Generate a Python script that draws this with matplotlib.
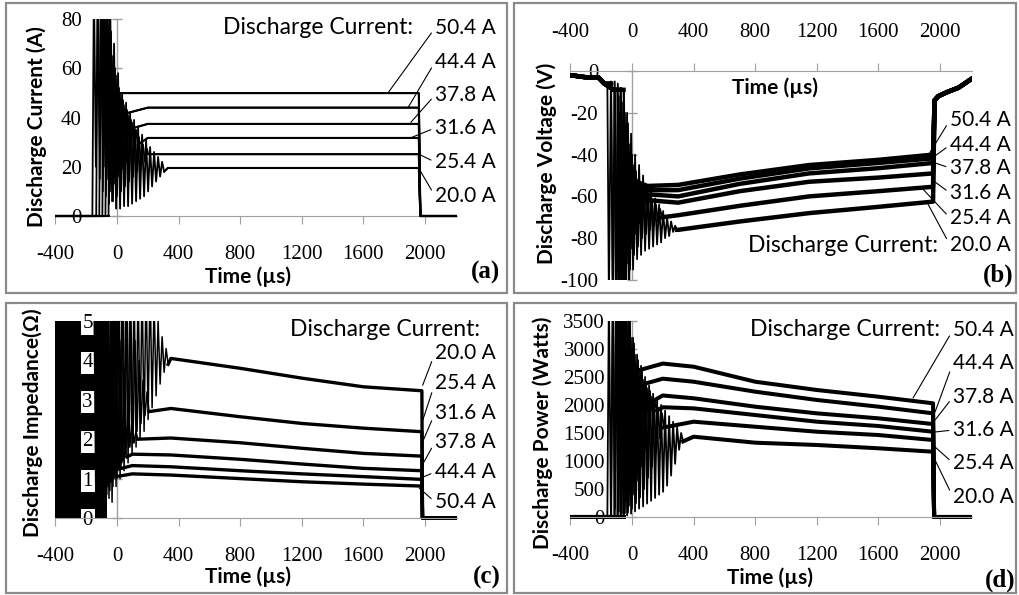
import numpy as np
import matplotlib
matplotlib.use("Agg")
import matplotlib.pyplot as plt
from matplotlib.patches import Rectangle

plt.rcParams['axes.unicode_minus'] = False

W, H = 1019, 595
nan = np.nan

# ---------------- data ----------------
series_labels = ['20.0 A', '25.4 A', '31.6 A', '37.8 A', '44.4 A', '50.4 A']
ignition_t = [-55, -75, -95, -115, -135, -160]      # µs, discharge ignition
RING_DELAY = 10     # µs from ignition to first extremum
RING_STEP = 13      # µs between successive extrema of the ringing

time_ticks = [-400, 0, 400, 800, 1200, 1600, 2000]

# (a) discharge current [A]
cur_pre_t = [-400]
cur_pre_v = [0]
cur_ring = [
    [95, 6, 70, 3, 58, 3, 50, 4, 46, 4, 42, 5, 39, 6, 36, 7, 33, 8, 31, 10, 28, 12, 26, 14, 24, 16, 22, 18],
    [95, 5, 75, 6, 60, 8, 52, 10, 47, 12, 43, 14, 39, 16, 35, 18, 32, 20, 29, 22, 27],
    [95, 8, 80, 10, 65, 13, 57, 16, 50, 19, 45, 22, 41, 25, 38, 27, 35, 29],
    [95, 10, 85, 15, 70, 20, 60, 25, 52, 29, 46, 32, 42, 35],
    [95, 15, 90, 20, 75, 28, 62, 33, 55, 37, 50, 41],
    [95, 20, 92, 25, 85, 32, 70, 38, 62, 42, 56, 46],
]
cur_plat_t = [0, 200, 330, 1000, 1960]
cur_plat_v = [
    [nan, nan, 19.5, 19.5, 19.5],
    [nan, 25.1, 25.1, 25.1, 25.1],
    [nan, 31.7, 31.7, 31.7, 31.7],
    [nan, 37.4, 37.4, 37.4, 37.4],
    [44.0, 44.0, 44.0, 44.0, 44.0],
    [49.9, 49.9, 49.9, 49.9, 49.9],
]
cur_post_t = [1970, 2200]
cur_post_v = [0, 0]
cur_lead_t = [1963, 1963, 1917, 1908, 1890, 1760]
cur_lead_v = [19, 25, 32, 38, 44, 50]

# (b) discharge voltage [V]
vol_pre_t = [-400, -300, -220, -180, -120]
vol_pre_v = [-2, -3, -3, -6, -9]
vol_ring = [
    [-110, -20, -110, -30, -95, -40, -90, -45, -88, -50, -86, -55, -85, -58, -84, -61, -83, -64, -82, -67, -80, -70, -79, -72, -77, -74, -76],
    [-110, -10, -110, -25, -95, -40, -88, -48, -84, -53, -80, -57, -78, -60, -76, -62, -74, -64, -72, -66, -70],
    [-110, -8, -110, -20, -92, -35, -85, -45, -78, -52, -73, -56, -70, -58, -67, -60, -65, -62],
    [-110, -6, -110, -15, -95, -30, -85, -42, -75, -50, -68, -55, -64, -58],
    [-110, -5, -110, -12, -95, -25, -85, -38, -75, -47, -66, -53],
    [-110, -5, -110, -10, -98, -20, -90, -35, -78, -45, -68, -52],
]
vol_plat_t = [100, 300, 700, 1150, 1600, 1955]
vol_plat_v = [
    [nan, -76, -72, -68, -65, -62.5],
    [nan, -69, -64.5, -60, -57.5, -55.4],
    [nan, -63, -57.5, -53, -51, -49],
    [-59, -60, -54, -49, -46.5, -44],
    [-57, -57, -51.5, -46.6, -44, -41.8],
    [-55, -54.5, -49.5, -45, -42.5, -40],
]
vol_post_t = [1965, 1990, 2050, 2120, 2200]
vol_post_v = [-14, -12, -10, -8, -4]
vol_lead_t = [1915, 1883, 1948, 1968, 1961, 1929]
vol_lead_v = [-62.7, -56, -52, -44, -41, -39.7]

# (c) discharge impedance [Ohm]
imp_offscale_t = [-400, -62]     # before ignition V/I is off-scale noise
imp_ring = [
    [6, 0.4, 6, 0.8, 6, 1.0, 6, 1.2, 6, 1.4, 6, 1.6, 6, 1.8, 6, 2.0, 6, 2.2, 6, 2.5, 6, 2.8, 5.5, 3.1, 5.0, 3.4, 4.6, 3.7, 4.3, 3.9],
    [6, 0.5, 6, 0.8, 6, 1.0, 6, 1.3, 6, 1.6, 5.5, 1.8, 5.0, 2.0, 4.5, 2.2, 4.0, 2.4, 3.5, 2.6, 3.2, 2.7],
    [6, 0.4, 6, 0.7, 6, 1.0, 5.5, 1.2, 4.5, 1.4, 3.8, 1.6, 3.0, 1.8, 2.5, 1.9, 2.2, 2.0],
    [6, 0.3, 6, 0.6, 5, 0.9, 4, 1.1, 3, 1.3, 2.2, 1.45, 1.8, 1.55],
    [6, 0.3, 6, 0.5, 4.5, 0.8, 3.5, 1.0, 2.5, 1.15, 1.7, 1.25],
    [6, 0.3, 6, 0.4, 5, 0.6, 4, 0.8, 3, 0.95, 1.8, 1.05],
]
imp_plat_t = [100, 350, 800, 1200, 1600, 1980]
imp_plat_v = [
    [nan, 4.05, 3.8, 3.55, 3.33, 3.23],
    [nan, 2.78, 2.57, 2.4, 2.28, 2.19],
    [nan, 2.03, 1.91, 1.77, 1.64, 1.57],
    [1.62, 1.6, 1.49, 1.37, 1.26, 1.2],
    [1.33, 1.3, 1.2, 1.12, 1.05, 0.98],
    [1.12, 1.09, 1.0, 0.92, 0.86, 0.81],
]
imp_post_t = [1984, 2200]
imp_post_v = [0, 0]
imp_lead_t = [1985, 1987, 1990, 1990, 1988, 1963]
imp_lead_v = [3.37, 2.5, 1.98, 1.4, 1.04, 0.76]

# (d) discharge power [W]
pow_pre_t = [-400]
pow_pre_v = [0]
pow_ring = [
    [4000, 30, 3800, 60, 3200, 100, 2900, 150, 2700, 190, 2500, 240, 2350, 290, 2200, 340, 2100, 400, 2000, 450, 1900, 560, 1800, 740, 1700, 950, 1600, 1200, 1500, 1350],
    [4000, 40, 3900, 80, 3500, 150, 3100, 250, 2800, 350, 2600, 500, 2400, 700, 2250, 900, 2100, 1150, 1950, 1400, 1850, 1600],
    [4000, 30, 4000, 70, 3600, 200, 3200, 400, 2900, 650, 2650, 900, 2450, 1200, 2300, 1500, 2150, 1750, 2050, 1900],
    [4000, 20, 4000, 60, 3700, 300, 3300, 700, 3000, 1100, 2700, 1500, 2500, 1800, 2350, 2000],
    [4000, 20, 4000, 100, 3800, 600, 3400, 1200, 3100, 1700, 2850, 2100, 2700, 2350],
    [4000, 20, 4000, 150, 4000, 800, 3600, 1500, 3300, 2000, 3100, 2400, 2950, 2600],
]
pow_plat_t = [200, 400, 800, 1200, 1600, 1955]
pow_plat_v = [
    [nan, 1434, 1327, 1286, 1227, 1166],
    [nan, 1702, 1612, 1523, 1464, 1375],
    [1960, 1940, 1821, 1702, 1625, 1523],
    [2170, 2120, 1970, 1851, 1762, 1660],
    [2470, 2416, 2238, 2090, 1970, 1851],
    [2740, 2684, 2416, 2268, 2148, 2030],
]
pow_post_t = [1962, 2200]
pow_post_v = [0, 0]
pow_lead_t = [1968, 1968, 1968, 1968, 1968, 1825]
pow_lead_v = [1018, 1250, 1518, 1732, 1875, 2125]

# ---------------- helpers ----------------
SANS = ['Lato', 'DejaVu Sans']
SERIF = ['Liberation Serif', 'DejaVu Serif']
GRAY = '#a0a0a0'

fig = plt.figure(figsize=(W / 100, H / 100), dpi=100)


def px_axes(x0, y0, x1, y1):
    return fig.add_axes([x0 / W, 1 - y1 / H, (x1 - x0) / W, (y1 - y0) / H])


def build_trace(pre_t, pre_v, t_on, ring, plat_t, plat_v, post_t, post_v):
    t, v = [], []
    for a, b in zip(pre_t, pre_v):
        if a < t_on:
            t.append(a)
            v.append(b)
    if v:
        t.append(t_on)
        v.append(v[-1])
    n_pre = len(t)
    ring_t = [t_on + RING_DELAY + k * RING_STEP for k in range(len(ring))]
    t += ring_t
    v += list(ring)
    n_ring = len(t)
    end = ring_t[-1]
    for a, b in zip(plat_t, plat_v):
        if not np.isnan(b) and a > end:
            t.append(a)
            v.append(b)
    t += list(post_t)
    v += list(post_v)
    return t, v, n_pre, n_ring


def frame(x0, y0, x1, y1):
    fig.patches.append(Rectangle((x0 / W, 1 - y1 / H), (x1 - x0) / W, (y1 - y0) / H,
                                 transform=fig.transFigure, fill=False,
                                 edgecolor='#8a8a8a', lw=1.6))


def setup_axes(ax, ylim, yticks, xtop=False, ypad=-19, label_box=False):
    ax.set_xlim(-400, 2210)
    ax.set_ylim(*ylim)
    ax.patch.set_visible(False)
    ax.spines['right'].set_visible(False)
    ax.spines['left'].set_visible(False)
    if xtop:
        ax.spines['bottom'].set_visible(False)
        ax.xaxis.tick_top()
        ax.spines['top'].set_color(GRAY)
    else:
        ax.spines['top'].set_visible(False)
        ax.spines['bottom'].set_color(GRAY)
    ax.set_xticks(time_ticks)
    ax.set_yticks(yticks)
    ax.tick_params(axis='x', direction='out', length=6, color=GRAY, pad=15,
                   labelsize=15, labelfontfamily='Liberation Serif')
    ax.tick_params(axis='y', length=0, pad=ypad,
                   labelsize=15, labelfontfamily='Liberation Serif')
    # vertical axis crosses at time 0, with small crossing tick marks
    ax.axvline(0, color=GRAY, lw=1, zorder=1)
    ax.plot([0] * len(yticks), yticks, ls='none', marker='_', ms=7, mew=1,
            color=GRAY, zorder=1, clip_on=False)
    if label_box:
        for lab in ax.get_yticklabels():
            lab.set_bbox(dict(facecolor='white', edgecolor='none', pad=1.2))


def draw_traces(ax, pre_t, pre_v, ring, plat_t, plat_v, post_t, post_v, clip,
                lw_ring, lw_plat, z):
    for i in range(len(series_labels)):
        t, v, n0, n = build_trace(pre_t, pre_v, ignition_t[i], ring[i], plat_t, plat_v[i],
                                  post_t, post_v)
        cp = Rectangle((clip[0], clip[1]), clip[2] - clip[0], clip[3] - clip[1],
                       transform=ax.transData)
        parts = [(t, v, lw_ring), (t[n - 1:], v[n - 1:], lw_plat)]
        if n0 > 0:
            parts.append((t[:n0], v[:n0], lw_plat))
        for tt, vv, lw in parts:
            ln, = ax.plot(tt, vv, color='black', lw=lw, zorder=z, solid_joinstyle='round')
            ln.set_clip_path(cp)


def leaders(ax, lead_t, lead_v, order, xpx, ypx):
    for idx, yp in zip(order, ypx):
        ax.annotate(series_labels[idx], xy=(lead_t[idx], lead_v[idx]), xycoords='data',
                    xytext=(xpx, H - yp), textcoords='figure pixels',
                    ha='left', va='center', fontsize=15, family=SANS,
                    arrowprops=dict(arrowstyle='-', color='black', lw=0.8,
                                    shrinkA=1, shrinkB=0, relpos=(0, 0.5)),
                    annotation_clip=False)


def ftext(x, y, s, **kw):
    fig.text(x / W, 1 - y / H, s, ha='center', va='center', **kw)


def dc_title(xr, y):
    fig.text(xr / W, 1 - y / H, 'Discharge Current:', ha='right', va='center',
             fontsize=16.5, family=SANS)


# panel frames
frame(6, 3, 507, 293)
frame(514, 3, 1016, 293)
frame(6, 303, 507, 593)
frame(514, 303, 1016, 593)

# ---------------- (a) current ----------------
axA = px_axes(55.4, 19, 457.3, 216)
setup_axes(axA, (0, 80), [0, 20, 40, 60, 80], ypad=-19)
draw_traces(axA, cur_pre_t, cur_pre_v, cur_ring, cur_plat_t, cur_plat_v,
            cur_post_t, cur_post_v, (-400, -3, 2210, 80), 1.3, 1.5, 3)
leaders(axA, cur_lead_t, cur_lead_v, [5, 4, 3, 2, 1, 0], 435, [28, 62, 95, 128, 162, 196])
dc_title(413, 28)
ftext(37, 127, 'Discharge Current (A)', rotation=90, fontsize=15, family=SANS, weight='bold')
ftext(248, 277, 'Time (µs)', fontsize=15, family=SANS, weight='bold')
ftext(485, 272, '(a)', fontsize=18, family=SERIF, weight='bold')

# ---------------- (b) voltage ----------------
axB = px_axes(570.4, 71, 972.3, 280)
setup_axes(axB, (-100, 0), [-100, -80, -60, -40, -20, 0], xtop=True, ypad=-20)
draw_traces(axB, vol_pre_t, vol_pre_v, vol_ring, vol_plat_t, vol_plat_v,
            vol_post_t, vol_post_v, (-400, -100, 2210, 3), 1.3, 3.2, 3)
leaders(axB, vol_lead_t, vol_lead_v, [5, 4, 3, 2, 1, 0], 950, [120, 145, 168, 193, 218, 245])
dc_title(938, 245)
ftext(547, 163, 'Discharge Voltage (V)', rotation=90, fontsize=15, family=SANS, weight='bold')
ftext(775, 88, 'Time (µs)', fontsize=15, family=SANS, weight='bold')
ftext(998, 275, '(b)', fontsize=18, family=SERIF, weight='bold')

# ---------------- (c) impedance ----------------
axC = px_axes(55.4, 321, 457.3, 518)
setup_axes(axC, (0, 5), [0, 1, 2, 3, 4, 5], ypad=-27, label_box=True)
axC.fill_between(imp_offscale_t, 0, 5, color='black', lw=0, zorder=1)
draw_traces(axC, [], [], imp_ring, imp_plat_t, imp_plat_v,
            imp_post_t, imp_post_v, (-400, -0.2, 2210, 5), 1.1, 2.4, 2)
leaders(axC, imp_lead_t, imp_lead_v, [0, 1, 2, 3, 4, 5], 435, [353, 383, 413, 442, 472, 502])
dc_title(480, 330)
ftext(33, 423, 'Discharge Impedance(Ω)', rotation=90, fontsize=15, family=SANS, weight='bold')
ftext(248, 577, 'Time (µs)', fontsize=15, family=SANS, weight='bold')
ftext(487, 577, '(c)', fontsize=18, family=SERIF, weight='bold')

# ---------------- (d) power ----------------
axD = px_axes(570.4, 321, 972.3, 517)
setup_axes(axD, (0, 3500), [0, 500, 1000, 1500, 2000, 2500, 3000, 3500], ypad=-25,
           label_box=True)
draw_traces(axD, pow_pre_t, pow_pre_v, pow_ring, pow_plat_t, pow_plat_v,
            pow_post_t, pow_post_v, (-400, -40, 2210, 3500), 1.3, 2.9, 2)
leaders(axD, pow_lead_t, pow_lead_v, [5, 4, 3, 2, 1, 0], 953, [330, 363, 397, 430, 463, 497])
dc_title(940, 330)
ftext(543, 433, 'Discharge Power (Watts)', rotation=90, fontsize=15, family=SANS, weight='bold')
ftext(770, 578, 'Time (µs)', fontsize=15, family=SANS, weight='bold')
ftext(1000, 580, '(d)', fontsize=18, family=SERIF, weight='bold')

fig.savefig('out.png', dpi=100)
